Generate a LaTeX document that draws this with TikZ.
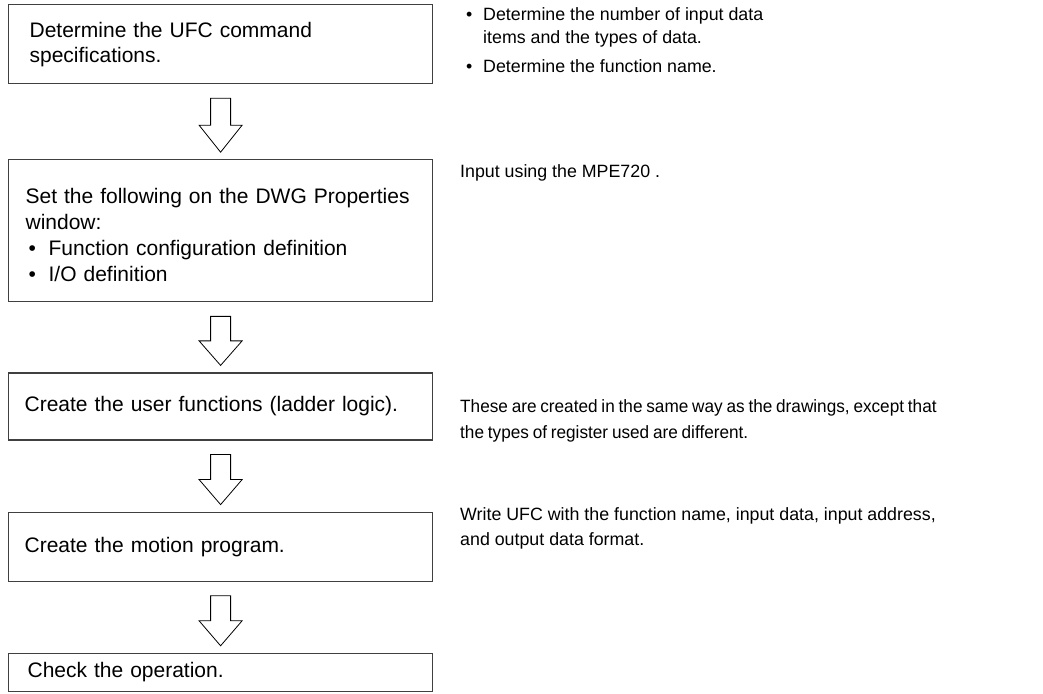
\documentclass[tikz,border=0pt]{standalone}
\usepackage{fontspec}
\setmainfont{Liberation Sans}
\newfontfamily\tightfont[WordSpace=0.8,FakeStretch=0.965]{Liberation Sans}
\usetikzlibrary{positioning,calc}

% hollow block arrow from one step box down to the next
\newcommand{\hollowdown}[2]{%
  \draw[hollow] let \p1=($(#1.south)+(0,-14)$), \p2=($(#2.north)+(0,7)$),
      \n1={(\y1-\y2)/2} in
    (\x1-10,\y1) -- (\x1+10,\y1) -- (\x1+10,\y1-\n1) -- (\x1+21.5,\y1-\n1)
    -- (\x1,\y2) -- (\x1-21.5,\y1-\n1) -- (\x1-10,\y1-\n1) -- cycle;}
\newcommand{\itm}[1]{\makebox[#1][l]{\hspace{6pt}\textbullet}}

\begin{document}
\begin{tikzpicture}[
  x=1pt, y=1pt,
  stepbox/.style={draw=black!75, line width=1.2pt, minimum width=424pt,
    text width=396pt, inner xsep=14pt, align=left, anchor=north west,
    font=\fontsize{21}{25}\selectfont},
  note/.style={anchor=north west, inner sep=0pt, align=left,
    font=\fontsize{17.8}{23}\selectfont},
  hollow/.style={draw=black, line width=0.8pt, fill=white}
]
\useasboundingbox (0,0) rectangle (1043,693);

\node[stepbox, minimum height=79pt] (spec) at (8,689)
  {\hspace*{7pt}Determine the UFC command\\\hspace*{7pt}specifications.};
\node[stepbox, minimum height=142pt, below=75pt of spec] (props)
  {\rule{0pt}{23pt}\hspace*{3pt}Set the following on the DWG Properties\\[1pt]
   \hspace*{3pt}window:\\[1pt]
   \itm{26pt}Function configuration definition\\[1pt]
   \itm{26pt}I/O definition};
\node[stepbox, minimum height=67pt, below=70pt of props] (ladder)
  {\hspace*{2pt}Create the user functions (ladder logic).};
\node[stepbox, minimum height=69pt, below=71pt of ladder] (motion)
  {\hspace*{2pt}Create the motion program.};
\node[stepbox, minimum height=38pt, below=71pt of motion] (check)
  {\hspace*{5pt}Check the operation.};

\hollowdown{spec}{props}
\hollowdown{props}{ladder}
\hollowdown{ladder}{motion}
\hollowdown{motion}{check}

\node[note] (specnote) at (460,686)
  {\itm{23pt}Determine the number of input data\\
   \hspace*{23pt}items and the types of data.\\[6pt]
   \itm{23pt}Determine the function name.};
\node[note] (propsnote) at (460,529) {Input using the MPE720 .};
\node[note, font=\tightfont\fontsize{17.8}{23}\selectfont] (laddernote) at (460,294)
  {These are created in the same way as the drawings, except that\\[3pt]
   the types of register used are different.};
\node[note] (motionnote) at (460,186)
  {Write UFC with the function name, input data, input address,\\[2pt]
   and output data format.};
\end{tikzpicture}
\end{document}
